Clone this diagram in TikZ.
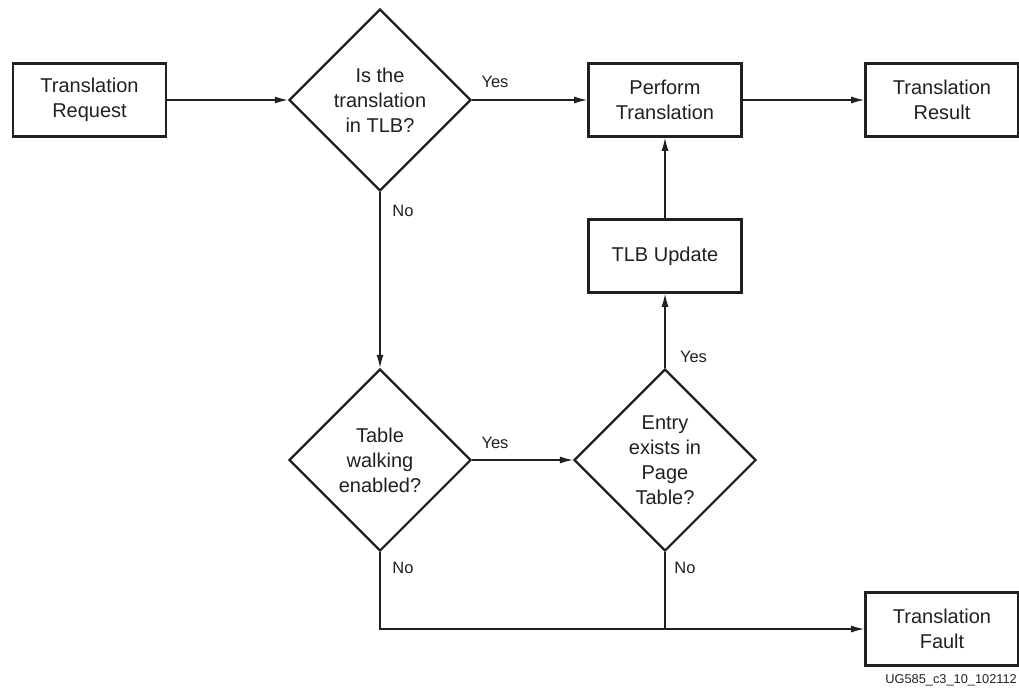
\documentclass[tikz,border=0pt]{standalone}
\usepackage{fontspec}
\setmainfont{Liberation Sans}
\usetikzlibrary{shapes.geometric,arrows.meta}
\definecolor{ink}{HTML}{231F20}
\begin{document}
\begin{tikzpicture}[x=1pt,y=-1pt,
  every node/.style={text=ink},
  boxnode/.style={draw=ink,line width=2.6pt,minimum width=153pt,minimum height=73pt,inner sep=0pt,align=center,font=\fontsize{20}{25.5}\selectfont},
  decnode/.style={diamond,draw=ink,line width=2.2pt,minimum width=182pt,minimum height=182pt,inner sep=0pt,align=center,font=\fontsize{20}{25}\selectfont},
  conn/.style={draw=ink,line width=1.3pt},
  arr/.style={conn,-{Latex[length=13pt,width=7pt]}},
  lbl/.style={font=\fontsize{16.5}{19}\selectfont,inner sep=0pt},
]
\useasboundingbox (0,0) rectangle (1019,691);
\node[boxnode] (req) at (89.5,100) {Translation\\Request};
\node[decnode] (d1) at (380,100) {Is the\\translation\\in TLB?};
\node[boxnode] (perf) at (665,100) {Perform\\Translation};
\node[boxnode] (res) at (942,100) {Translation\\Result};
\node[boxnode] (tlb) at (665,256) {TLB Update};
\node[decnode] (d2) at (380,460) {Table\\walking\\enabled?};
\node[decnode] (d3) at (665,460) {Entry\\exists in\\Page\\Table?};
\node[boxnode] (fault) at (942,629) {Translation\\Fault};
\coordinate (j2) at (d2.south |- fault.west);
\coordinate (j3) at (d3.south |- fault.west);

\draw[arr] (req.east) -- (d1.west);
\draw[arr] (d1.east) -- (perf.west);
\draw[arr] (perf.east) -- (res.west);
\draw[arr] (d1.south) -- (d2.north);
\draw[arr] (d2.east) -- (d3.west);
\draw[arr] (d3.north) -- (tlb.south);
\draw[arr] (tlb.north) -- (perf.south);
\draw[arr] (d2.south) -- (j2) -- (fault.west);
\draw[conn] (d3.south) -- (j3);

\node[lbl] (l1) at (495,82) {Yes};
\node[lbl] (l2) at (403,211) {No};
\node[lbl] (l3) at (495,443) {Yes};
\node[lbl] (l4) at (693.5,357) {Yes};
\node[lbl] (l5) at (403,568) {No};
\node[lbl] (l6) at (685,568) {No};
\node[font=\fontsize{12.8}{15}\selectfont,inner sep=0pt,anchor=east] (tag) at (1017,680) {UG585\_c3\_10\_102112};
\end{tikzpicture}
\end{document}
